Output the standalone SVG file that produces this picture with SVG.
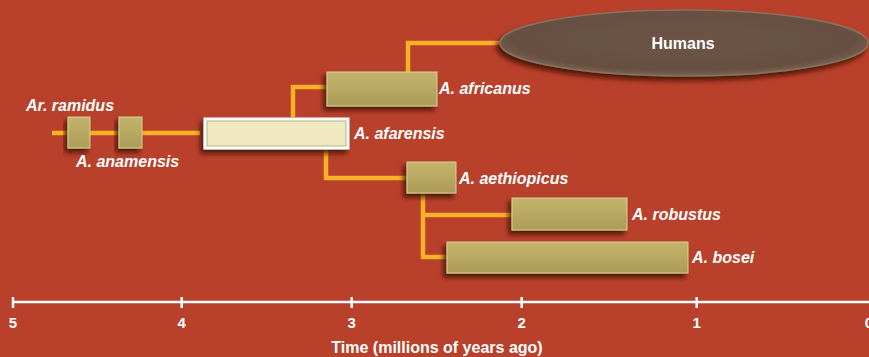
<svg xmlns="http://www.w3.org/2000/svg" width="869" height="357" viewBox="0 0 869 357">
<defs>
<filter id="sh" x="-20%" y="-40%" width="140%" height="190%">
<feDropShadow dx="-3" dy="4" stdDeviation="2.5" flood-color="#3a0d05" flood-opacity="0.85"/>
</filter>
<linearGradient id="bar" x1="0" y1="0" x2="0" y2="1">
<stop offset="0" stop-color="#c4b36c"/>
<stop offset="0.5" stop-color="#b9a862"/>
<stop offset="1" stop-color="#ad9c58"/>
</linearGradient>
<radialGradient id="hum" cx="0.5" cy="0.45" r="0.55">
<stop offset="0" stop-color="#6c5444"/>
<stop offset="0.85" stop-color="#675042"/>
<stop offset="1" stop-color="#7a6452"/>
</radialGradient>
</defs>
<style>
.bg{fill:#b9412b}
.con{fill:none;stroke:#f7b126;stroke-width:4.5}
.box{fill:url(#bar);stroke:#dccf94;stroke-width:1;filter:url(#sh)}
.lbl{font-family:"Liberation Sans",Arial,sans-serif;font-weight:bold;font-style:italic;font-size:16px;fill:#ffffff}
.ax{stroke:#ffffff;stroke-width:2.5;fill:none}
.tk{font-family:"Liberation Sans",Arial,sans-serif;font-weight:bold;font-size:15px;fill:#ffffff;text-anchor:middle}
</style>
<rect class="bg" x="0" y="0" width="869" height="357"/>

<g id="connectors">
<path class="con" d="M52 133 H200"/>
<path class="con" d="M293 117 V87 H327"/>
<path class="con" d="M408 72 V43 H500"/>
<path class="con" d="M326 150 V178 H408"/>
<path class="con" d="M423 193 V257 H447 M423 215 H512"/>
</g>

<g id="humans">
<ellipse cx="684" cy="43" rx="184" ry="33" fill="url(#hum)" stroke="#8a725e" stroke-width="1.5" filter="url(#sh)"/>
<text x="683" y="49" class="tk" style="font-size:16px">Humans</text>
</g>

<g id="ramidus">
<rect class="box" x="68" y="117" width="22" height="31"/>
<text class="lbl" x="26" y="111">Ar. ramidus</text>
</g>

<g id="anamensis">
<rect class="box" x="119" y="117" width="23" height="31"/>
<text class="lbl" x="76" y="167">A. anamensis</text>
</g>

<g id="afarensis">
<rect x="203.5" y="117.5" width="146" height="32" fill="#ffffff" filter="url(#sh)"/>
<rect x="207" y="121" width="139" height="25" fill="#efe8c0" stroke="#b8b48a" stroke-width="1"/>
<text class="lbl" x="354" y="139">A. afarensis</text>
</g>

<g id="africanus">
<rect class="box" x="327" y="72" width="110" height="34"/>
<text class="lbl" x="439" y="94">A. africanus</text>
</g>

<g id="aethiopicus">
<rect class="box" x="407" y="162" width="49" height="31"/>
<text class="lbl" x="459" y="184">A. aethiopicus</text>
</g>

<g id="robustus">
<rect class="box" x="512" y="198" width="115" height="32"/>
<text class="lbl" x="632" y="220">A. robustus</text>
</g>

<g id="bosei">
<rect class="box" x="447" y="242" width="241" height="31"/>
<text class="lbl" x="692" y="263">A. bosei</text>
</g>

<g id="axis">
<path class="ax" d="M13 302 H869 M13 297 V308 M181.7 297 V308 M351.7 297 V308 M521.7 297 V308 M696.7 297 V308"/>
<text class="tk" x="13" y="328">5</text>
<text class="tk" x="181.7" y="328">4</text>
<text class="tk" x="351.7" y="328">3</text>
<text class="tk" x="521.7" y="328">2</text>
<text class="tk" x="696.7" y="328">1</text>
<text class="tk" x="869" y="328">0</text>
<text class="tk" x="437" y="353" style="font-size:16px">Time (millions of years ago)</text>
</g>
</svg>
